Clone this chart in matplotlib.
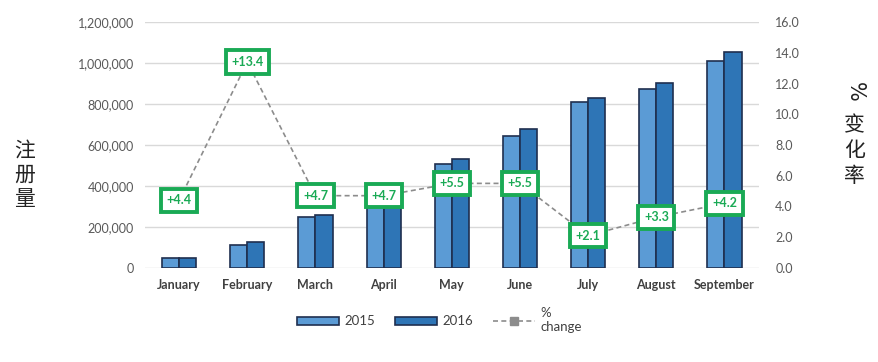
import matplotlib.pyplot as plt
import numpy as np

months = ["January", "February", "March", "April", "May", "June", "July", "August", "September"]
reg_2015 = [48000, 112000, 249000, 310000, 507000, 644000, 810000, 873000, 1010000]
reg_2016 = [50000, 127000, 258000, 325000, 532000, 678000, 829000, 902000, 1054000]
pct_change = [4.4, 13.4, 4.7, 4.7, 5.5, 5.5, 2.1, 3.3, 4.2]

c2015 = "#5b9bd5"
c2016 = "#2e75b6"
edge = "#1f2f4f"
green = "#1aaa55"
grey = "#595959"

plt.rcParams['font.family'] = ['Lato', 'DejaVu Sans']

fig = plt.figure(figsize=(8.79, 3.62), dpi=100)
ax = fig.add_axes([0.165, 0.26, 0.698, 0.679])
x = np.arange(len(months))
w = 0.25

b1 = ax.bar(x - w / 2, reg_2015, w, color=c2015, edgecolor=edge, linewidth=1.2, label="2015", zorder=2)
b2 = ax.bar(x + w / 2, reg_2016, w, color=c2016, edgecolor=edge, linewidth=1.2, label="2016", zorder=2)

ax.set_xlim(-0.5, len(months) - 0.5)
ax.set_ylim(0, 1200000)
ax.set_yticks(np.arange(0, 1200001, 200000))
ax.set_yticklabels([f"{v:,}" for v in range(0, 1200001, 200000)])
ax.set_xticks(x)
ax.set_xticklabels(months, fontweight="bold")
ax.grid(axis="y", color="#d9d9d9", linewidth=1, zorder=0)
for s in ax.spines.values():
    s.set_visible(False)
ax.tick_params(axis="both", length=0, labelsize=9, colors=grey, pad=8)
ax.tick_params(axis="x", labelsize=9, colors="#404040")

ax2 = ax.twinx()
ax2.set_ylim(0, 16)
ax2.set_yticks(np.arange(0, 16.1, 2))
ax2.set_yticklabels([f"{v:.1f}" for v in np.arange(0, 16.1, 2)])
for s in ax2.spines.values():
    s.set_visible(False)
ax2.tick_params(axis="y", length=0, labelsize=9, colors=grey, pad=12)
ln, = ax2.plot(x, pct_change, linestyle=(0, (3, 2)), color="#8c8c8c", linewidth=1.2,
               marker="s", markersize=6, markerfacecolor="#8c8c8c", markeredgecolor="#8c8c8c",
               label="%\nchange", zorder=3)

for xi, v in zip(x, pct_change):
    ax2.text(xi, v, f"+{v}", ha="center", va="center", fontsize=9, fontweight="bold", color=green,
             zorder=5,
             bbox=dict(boxstyle="square,pad=0.45", facecolor="white", edgecolor=green, linewidth=2.8))

cjk = ['Noto Sans CJK SC']
for ch, yy in zip("注册量", [0.585, 0.517, 0.449]):
    fig.text(0.028, yy, ch, fontsize=15, color="#222222", ha="center", va="center", family=cjk)
fig.text(0.972, 0.745, "%", fontsize=15, color="#222222", ha="center", va="center", rotation=-90,
         family=['DejaVu Sans'])
for ch, yy in zip("变化率", [0.655, 0.585, 0.515]):
    fig.text(0.972, yy, ch, fontsize=15, color="#222222", ha="center", va="center", family=cjk)

leg = fig.legend(handles=[b1, b2, ln], loc="center", bbox_to_anchor=(0.5, 0.115), ncol=3,
                 frameon=False, fontsize=9.5, handlelength=3.2, handleheight=0.6, columnspacing=1.5,
                 handletextpad=0.4)
for t in leg.get_texts():
    t.set_color("#404040")

fig.savefig("out.png", dpi=100)
